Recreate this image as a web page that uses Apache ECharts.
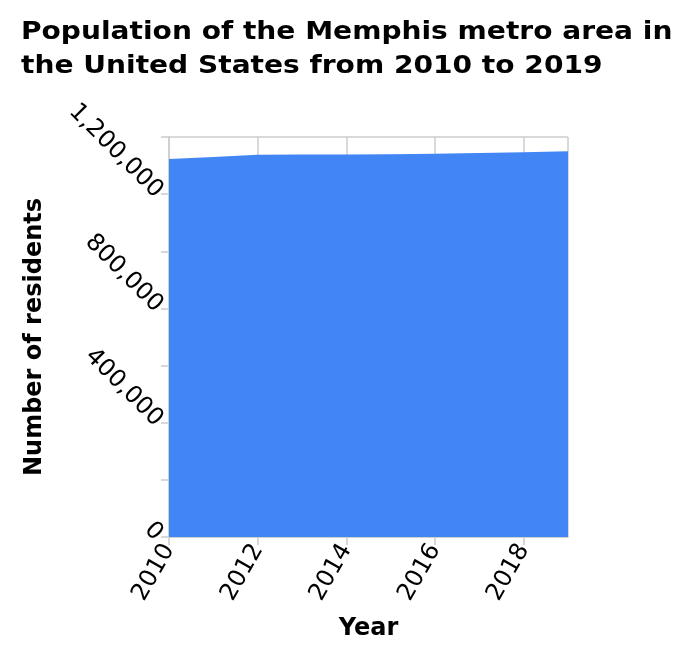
<!DOCTYPE html>
<html>
<head>
<meta charset="utf-8">
<script src="https://cdn.jsdelivr.net/npm/echarts@6/dist/echarts.min.js"></script>
<style>
html,body{margin:0;padding:0;background:#fff;}
#chart{width:694px;height:662px;}
</style>
</head>
<body>
<div id="chart"></div>
<script>
var titleText = 'Population of the Memphis metro area in\nthe United States from 2010 to 2019';
var xAxisName = 'Year';
var yAxisName = 'Number of residents';
var years = [2010, 2011, 2012, 2013, 2014, 2015, 2016, 2017, 2018, 2019];
var residents = [1323000, 1330000, 1338000, 1338500, 1339000, 1340000, 1341000, 1344000, 1347000, 1350000];
var yTickLabels = [0, 400000, 800000, 1200000];

function fmt(v) {
  return String(v).replace(/\B(?=(\d{3})+(?!\d))/g, ',');
}

var chart = echarts.init(document.getElementById('chart'), null, {renderer: 'canvas'});
var FONT = 'DejaVu Sans';
chart.setOption({
  animation: false,
  backgroundColor: '#ffffff',
  graphic: [{
    type: 'text',
    x: 21,
    y: 16,
    scaleX: 1.17,
    scaleY: 1,
    style: {
      text: titleText,
      font: 'bold 24px "DejaVu Sans"',
      fontFamily: FONT,
      fontWeight: 'bold',
      fontSize: 24,
      lineHeight: 34,
      fill: '#000',
      verticalAlign: 'top',
      align: 'left'
    }
  }],
  grid: {left: 169, right: 126, top: 137, bottom: 125, containLabel: false},
  xAxis: {
    type: 'value',
    min: 2010,
    max: 2019,
    interval: 2,
    name: xAxisName,
    nameLocation: 'middle',
    nameGap: 80,
    nameTextStyle: {fontFamily: FONT, fontWeight: 'bold', fontSize: 24, color: '#000'},
    axisLine: {show: true, lineStyle: {color: '#cccccc', width: 1.5}},
    axisTick: {show: true, length: 8, lineStyle: {color: '#cccccc', width: 1.5}},
    splitLine: {show: true, lineStyle: {color: '#cccccc', width: 1.5}},
    axisLabel: {
      rotate: 60,
      fontFamily: FONT,
      fontSize: 24,
      color: '#000',
      margin: 9,
      showMaxLabel: false,
      formatter: function (v) { return years.indexOf(v) >= 0 && v % 2 === 0 ? String(v) : ''; }
    }
  },
  yAxis: {
    type: 'value',
    min: 0,
    max: 1400000,
    interval: 200000,
    name: yAxisName,
    nameLocation: 'middle',
    nameGap: 122,
    nameTextStyle: {fontFamily: FONT, fontWeight: 'bold', fontSize: 24, color: '#000'},
    axisLine: {show: true, lineStyle: {color: '#cccccc', width: 1.5}},
    axisTick: {show: true, length: 8, lineStyle: {color: '#cccccc', width: 1.5}},
    splitLine: {show: true, lineStyle: {color: '#cccccc', width: 1.5}},
    axisLabel: {
      rotate: -45,
      fontFamily: FONT,
      fontSize: 24,
      color: '#000',
      margin: 10,
      formatter: function (v) { return yTickLabels.indexOf(v) >= 0 ? fmt(v) : ''; }
    }
  },
  series: [{
    type: 'line',
    data: years.map(function (y, i) { return [y, residents[i]]; }),
    symbol: 'none',
    lineStyle: {width: 0},
    areaStyle: {color: '#4285f4', opacity: 1},
    itemStyle: {color: '#4285f4'}
  }]
});
</script>
</body>
</html>
